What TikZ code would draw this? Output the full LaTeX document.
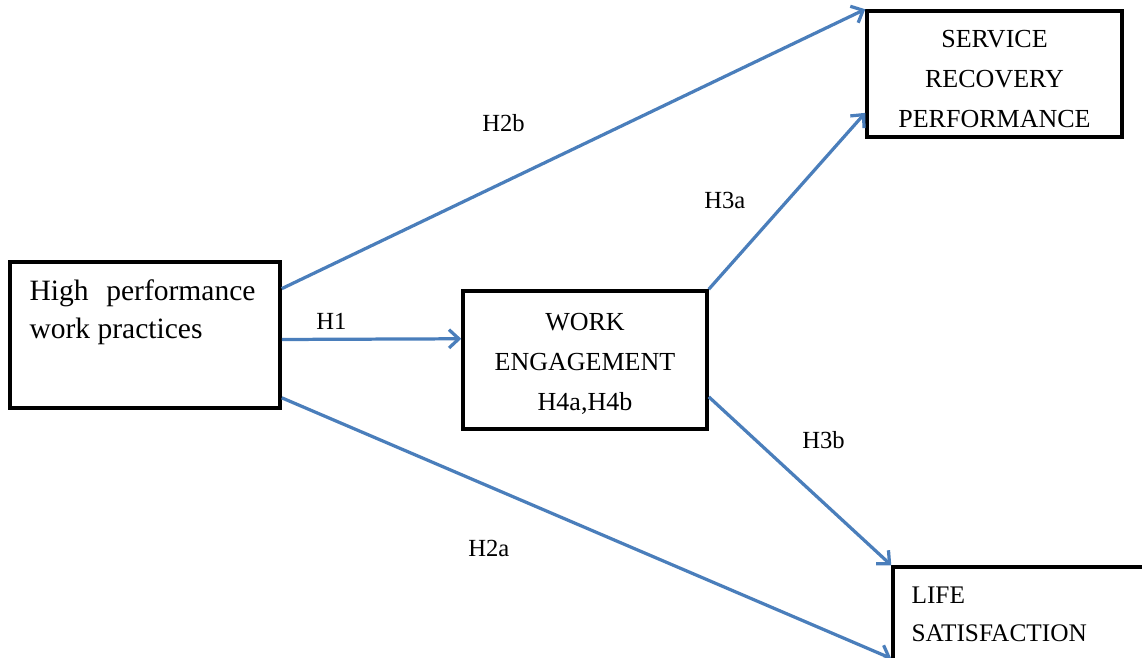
\documentclass[tikz,border=0pt]{standalone}
\usepackage{fontspec}
\setmainfont{Liberation Serif}
\usetikzlibrary{arrows.meta, positioning, calc}
\definecolor{ink}{HTML}{000000}
\definecolor{link}{HTML}{4A7EBB}
\tikzset{
  box/.style={draw=ink, line width=2.5pt, fill=white, inner sep=0pt},
  boxtxt/.style={font=\fontsize{18.5}{28.4}\selectfont, text=ink, align=center, inner sep=0pt},
  linetxt/.style={font=\fontsize{21}{27}\selectfont, text=ink, inner sep=0pt, anchor=base west},
  lowtxt/.style={font=\fontsize{18}{27}\selectfont, text=ink, inner sep=0pt, anchor=base west},
  hyp/.style={font=\fontsize{17.5}{21}\selectfont, text=ink, inner sep=0pt, anchor=base west},
  path/.style={draw=link, line width=2.3pt, -{Straight Barb[length=7pt, width=13pt, line width=2.3pt]}},
}
\begin{document}
\begin{tikzpicture}[x=0.025cm, y=-0.025cm]
  \useasboundingbox (0,0) rectangle (1142,657);
  \clip (0,0) rectangle (1142,657);

  % boxes
  \node[box, minimum width=270*0.025cm, minimum height=146*0.025cm] (hpwp) at (145,335) {};
  \node[box, minimum width=244*0.025cm, minimum height=138*0.025cm] (we) at (585,360) {};
  \node[box, minimum width=255*0.025cm, minimum height=126*0.025cm] (srp) at (994.5,74) {};
  \node[box, minimum width=267*0.025cm, minimum height=113*0.025cm] (ls) at (1026.5,623.5) {};

  % box texts
  \node[boxtxt] (wetxt) at ([yshift=-0.1cm]we.center) {WORK\\ENGAGEMENT\\H4a,H4b};
  \node[boxtxt] (srptxt) at ([yshift=-0.12cm]srp.center) {SERVICE\\RECOVERY\\PERFORMANCE};
  \node[linetxt] (hpwpa) at ([shift={(21,40)}]hpwp.north west) {High\hspace{0.6em}performance};
  \node[linetxt] (hpwpb) at ([shift={(21,78)}]hpwp.north west) {work practices};
  \node[lowtxt] (lsa) at ([shift={(20,38)}]ls.north west) {LIFE};
  \node[lowtxt] (lsb) at ([shift={(20,76)}]ls.north west) {SATISFACTION};

  % paths
  \draw[path] ($(hpwp.north east)!0.19!(hpwp.south east)$) -- (srp.north west);
  \draw[path] ($(hpwp.north east)!0.53!(hpwp.south east)$) -- ($(we.north west)!0.35!(we.south west)$);
  \draw[path] ($(hpwp.north east)!0.92!(hpwp.south east)$) -- ($(ls.north west)!0.8!(ls.south west)$);
  \draw[path] (we.north east) -- ($(srp.north west)!0.8!(srp.south west)$);
  \draw[path] ($(we.north east)!0.76!(we.south east)$) -- (ls.north west);

  % hypothesis labels
  \node[hyp] (h2b) at (482,131) {H2b};
  \node[hyp] (h1)  at (316,329) {H1};
  \node[hyp] (h2a) at (468,556) {H2a};
  \node[hyp] (h3a) at (704,208) {H3a};
  \node[hyp] (h3b) at (802,448) {H3b};
\end{tikzpicture}
\end{document}
